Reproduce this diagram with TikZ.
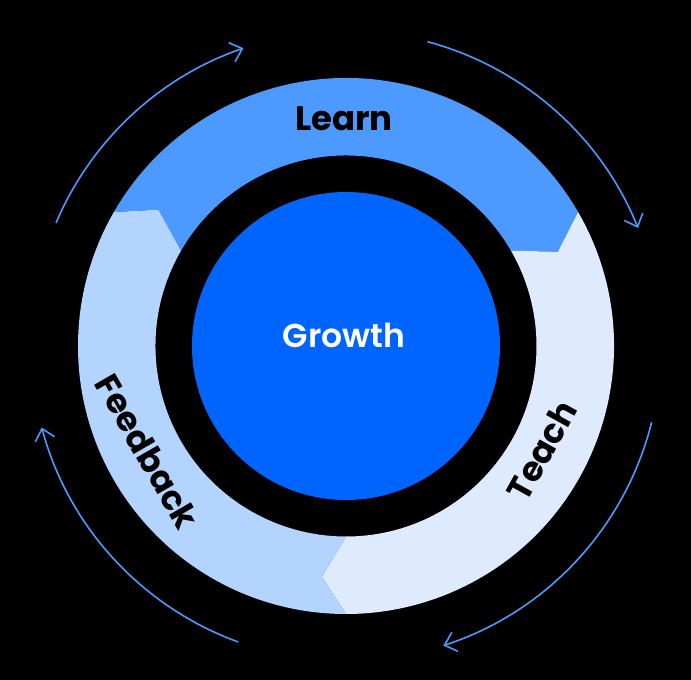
\documentclass[tikz,border=0pt]{standalone}
\usepackage{fontspec}
\setmainfont{Poppins}
\newfontfamily\semifont{Poppins SemiBold}
\usetikzlibrary{arrows.meta}
\definecolor{learnblue}{HTML}{4C9AFF}
\definecolor{teachblue}{HTML}{DEEBFF}
\definecolor{feedbackblue}{HTML}{B3D4FF}
\definecolor{growthblue}{HTML}{0065FF}
\definecolor{arcblue}{HTML}{4C9AFF}
\begin{document}
\begin{tikzpicture}[x=1pt, y=1pt,
            ringtext/.style={font=\bfseries\fontsize{34}{34}\selectfont, text=black, inner sep=0pt},
            cyclearc/.style={arcblue, line width=1.6pt, -{Straight Barb[length=11pt, width=20pt, line width=1.6pt]}}
            ]
            \fill[black] (-346,-334) rectangle (345,346);
            \useasboundingbox (-346,-334) rectangle (345,346);

            % ring segments with chevron ends
            \foreach \a/\col in {150/learnblue, 30/teachblue, -90/feedbackblue}{
              \fill[\col] (\a:268) arc[start angle=\a, end angle=\a-120, radius=268]
                -- (\a-126:232) -- (\a-120:190.5)
                arc[start angle=\a-120, end angle=\a, radius=190.5]
                -- (\a-6:232) -- cycle;
            }
            \fill[growthblue] (0,0) circle[radius=154];

            \node[ringtext] (learn) at (-2,227) {Learn};
            \node[ringtext, rotate=61] (teach) at (-28:222) {Teach};
            \node[ringtext, rotate=-60] (feedback) at (208:225) {Feedback};
            \node[ringtext, text=white, font=\semifont\fontsize{33}{33}\selectfont] (growth) at (-2,11) {Growth};

            % outer cycle arrows
            \draw[cyclearc] (157:315) arc[start angle=157, end angle=109, radius=315];
            \draw[cyclearc] (75:315) arc[start angle=75, end angle=22, radius=315];
            \draw[cyclearc] (-14:315) arc[start angle=-14, end angle=-72, radius=315];
            \draw[cyclearc] (250:315) arc[start angle=250, end angle=195, radius=315];
            \end{tikzpicture}
\end{document}
